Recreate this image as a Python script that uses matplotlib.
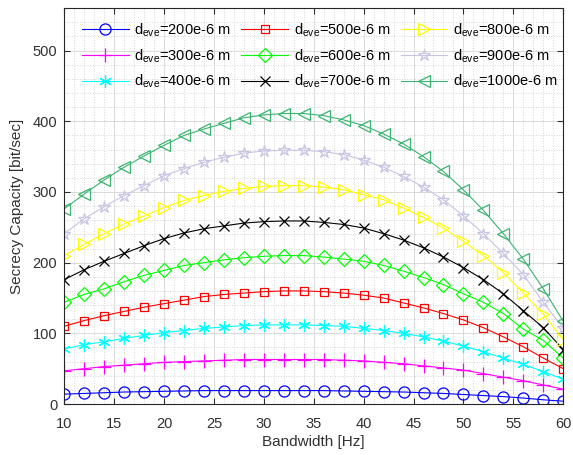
import matplotlib
matplotlib.use("Agg")
import matplotlib.pyplot as plt
from matplotlib.ticker import MultipleLocator

plt.rcParams["font.family"] = ["Liberation Sans", "DejaVu Sans"]
plt.rcParams["mathtext.fontset"] = "custom"
plt.rcParams["mathtext.rm"] = "Liberation Sans"

bandwidth = list(range(10, 61, 2))

cap_200 = [14, 15, 16, 17, 17.5, 18, 18.5, 19, 19, 19, 19, 19, 19, 19, 18.5, 18,
           17.5, 17, 16, 15, 13.5, 12, 10.5, 8.5, 6, 4]
cap_300 = [47, 50, 53, 55, 57, 59, 60, 61, 62, 63, 63, 63, 63, 63, 62, 61,
           59, 57, 54, 51, 48, 43, 38, 33, 27, 21]
cap_400 = [78, 84, 88, 93, 97, 101, 104, 107, 109, 111, 112, 112, 112, 111, 110, 107,
           104, 100, 95, 89, 82, 74, 65, 56, 46, 35]
cap_500 = [110, 118, 125, 131, 137, 142, 147, 152, 155, 157, 159, 160, 160, 159, 157, 154,
           150, 143, 136, 128, 119, 108, 95, 81, 65, 50]
cap_600 = [144, 155, 163, 173, 182, 189, 196, 200, 204, 207, 209, 210, 210, 208, 205, 202,
           196, 188, 179, 169, 156, 144, 128, 106, 90, 65]
cap_700 = [176, 190, 202, 213, 224, 234, 242, 248, 252, 256, 258, 259, 259, 257, 254, 249,
           241, 232, 221, 208, 193, 176, 156, 132, 108, 77]
cap_800 = [210, 226, 241, 255, 266, 278, 288, 295, 301, 305, 308, 309, 309, 307, 303, 296,
           289, 277, 264, 249, 230, 210, 186, 157, 127, 91]
cap_900 = [241, 262, 279, 295, 309, 323, 333, 342, 349, 355, 358, 359, 359, 357, 353, 345,
           335, 322, 307, 289, 266, 241, 213, 183, 144, 107]
cap_1000 = [276, 297, 317, 335, 351, 366, 380, 389, 397, 405, 409, 411, 411, 408, 402, 394,
            382, 368, 350, 329, 303, 274, 241, 205, 163, 117]

d_eve = ["200", "300", "400", "500", "600", "700", "800", "900", "1000"]
series = [cap_200, cap_300, cap_400, cap_500, cap_600, cap_700, cap_800, cap_900, cap_1000]
colors = ["#0000ff", "#ff00ff", "#00ffff", "#ff0000", "#00ff00", "#000000",
          "#ffff00", "#c8c4e4", "#3cb371"]
markers = ["o", "+", (6, 2, 0), "s", "D", "x", ">", "*", "<"]
msizes = [8, 10, 9, 6, 7, 7, 9, 9, 9]

fig = plt.figure(figsize=(5.73, 4.55), dpi=100)
ax = fig.add_axes([0.112, 0.112, 0.871, 0.870])

for vals, d, c, m, ms in zip(series, d_eve, colors, markers, msizes):
    ax.plot(bandwidth, vals, color=c, marker=m, markersize=ms, markerfacecolor="none",
            markeredgecolor=c, markeredgewidth=0.9, linewidth=0.8,
            label=r"d$_{\rm eve}$=" + d + "e-6 m")

ax.set_xlim(10, 60)
ax.set_ylim(0, 560)
ax.xaxis.set_major_locator(MultipleLocator(5))
ax.xaxis.set_minor_locator(MultipleLocator(1))
ax.yaxis.set_major_locator(MultipleLocator(100))
ax.yaxis.set_minor_locator(MultipleLocator(20))

ax.grid(which="major", color="#d4d4d4", linestyle="-", linewidth=0.6)
ax.grid(which="minor", color="#d4d4d4", linestyle=":", linewidth=0.7)
ax.set_axisbelow(True)

ax.tick_params(which="both", direction="in", top=True, right=True, colors="#303030",
               labelsize=10.5)
ax.tick_params(which="minor", length=0)
ax.tick_params(which="major", length=4)
ax.tick_params(axis="x", pad=9)
ax.tick_params(axis="y", pad=5)
for sp in ax.spines.values():
    sp.set_color("#262626")
    sp.set_linewidth(0.8)

ax.set_xlabel("Bandwidth [Hz]", fontsize=11, color="#303030", labelpad=3)
ax.set_ylabel("Secrecy Capacity [bit/sec]", fontsize=11, color="#303030", labelpad=6)

leg = ax.legend(ncol=3, loc="upper left", bbox_to_anchor=(0.015, 0.993), frameon=False,
                fontsize=10.5, handlelength=3.2, handletextpad=0.4, columnspacing=0.7,
                labelspacing=0.55, borderaxespad=0.3)

fig.savefig("out.png", dpi=100)
